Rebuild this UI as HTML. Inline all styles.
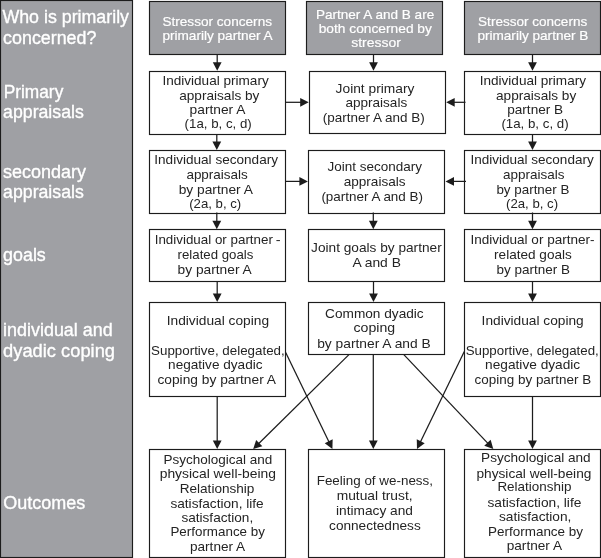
<!DOCTYPE html>
<html><head><meta charset="utf-8"><style>html,body{margin:0;padding:0;width:601px;height:558px;overflow:hidden;background:#fff}svg{display:block;will-change:transform;opacity:0.999}text{font-family:"Liberation Sans",sans-serif}</style></head><body>
<svg width="601" height="558" viewBox="0 0 601 558">
<rect x="0" y="0" width="601" height="558" fill="#fff"/>
<rect x="0.5" y="0.5" width="132" height="557" fill="#9fa0a4" stroke="#1c1c1c" stroke-width="1.15"/>
<rect x="149.5" y="1.5" width="136" height="53" fill="#9fa0a4" stroke="#1c1c1c" stroke-width="1.15"/>
<rect x="306.5" y="1.5" width="136" height="53" fill="#9fa0a4" stroke="#1c1c1c" stroke-width="1.15"/>
<rect x="464.5" y="1.5" width="136" height="53" fill="#9fa0a4" stroke="#1c1c1c" stroke-width="1.15"/>
<rect x="149.5" y="71.5" width="136" height="63" fill="#ffffff" stroke="#1c1c1c" stroke-width="1.15"/>
<rect x="309.5" y="71.5" width="136" height="62" fill="#ffffff" stroke="#1c1c1c" stroke-width="1.15"/>
<rect x="464.5" y="71.5" width="136" height="63" fill="#ffffff" stroke="#1c1c1c" stroke-width="1.15"/>
<rect x="149.5" y="150.5" width="136" height="63" fill="#ffffff" stroke="#1c1c1c" stroke-width="1.15"/>
<rect x="308.5" y="150.5" width="136" height="63" fill="#ffffff" stroke="#1c1c1c" stroke-width="1.15"/>
<rect x="464.5" y="150.5" width="136" height="63" fill="#ffffff" stroke="#1c1c1c" stroke-width="1.15"/>
<rect x="149.5" y="229.5" width="136" height="52" fill="#ffffff" stroke="#1c1c1c" stroke-width="1.15"/>
<rect x="308.5" y="229.5" width="136" height="52" fill="#ffffff" stroke="#1c1c1c" stroke-width="1.15"/>
<rect x="464.5" y="229.5" width="136" height="52" fill="#ffffff" stroke="#1c1c1c" stroke-width="1.15"/>
<rect x="149.5" y="302.5" width="136" height="94" fill="#ffffff" stroke="#1c1c1c" stroke-width="1.15"/>
<rect x="308.5" y="302.5" width="136" height="52" fill="#ffffff" stroke="#1c1c1c" stroke-width="1.15"/>
<rect x="464.5" y="302.5" width="136" height="94" fill="#ffffff" stroke="#1c1c1c" stroke-width="1.15"/>
<rect x="149.5" y="449.5" width="136" height="108" fill="#ffffff" stroke="#1c1c1c" stroke-width="1.15"/>
<rect x="308.5" y="449.5" width="136" height="108" fill="#ffffff" stroke="#1c1c1c" stroke-width="1.15"/>
<rect x="464.5" y="449.5" width="136" height="108" fill="#ffffff" stroke="#1c1c1c" stroke-width="1.15"/>
<g stroke="#1c1c1c" stroke-width="1.25" fill="none">
<line x1="217.20" y1="54.50" x2="217.20" y2="63.30"/><path d="M217.20,70.80 L212.80,62.30 L221.60,62.30 Z" stroke="none" fill="#1c1c1c"/>
<line x1="216.80" y1="134.00" x2="216.80" y2="142.50"/><path d="M216.80,150.00 L212.40,141.50 L221.20,141.50 Z" stroke="none" fill="#1c1c1c"/>
<line x1="216.80" y1="212.50" x2="216.80" y2="221.70"/><path d="M216.80,229.20 L212.40,220.70 L221.20,220.70 Z" stroke="none" fill="#1c1c1c"/>
<line x1="217.20" y1="281.00" x2="217.20" y2="294.50"/><path d="M217.20,302.00 L212.80,293.50 L221.60,293.50 Z" stroke="none" fill="#1c1c1c"/>
<line x1="217.20" y1="396.00" x2="217.20" y2="441.50"/><path d="M217.20,449.00 L212.80,440.50 L221.60,440.50 Z" stroke="none" fill="#1c1c1c"/>
<line x1="373.50" y1="54.50" x2="373.50" y2="63.30"/><path d="M373.50,70.80 L369.10,62.30 L377.90,62.30 Z" stroke="none" fill="#1c1c1c"/>
<line x1="373.30" y1="212.50" x2="373.30" y2="221.70"/><path d="M373.30,229.20 L368.90,220.70 L377.70,220.70 Z" stroke="none" fill="#1c1c1c"/>
<line x1="373.50" y1="281.00" x2="373.50" y2="294.50"/><path d="M373.50,302.00 L369.10,293.50 L377.90,293.50 Z" stroke="none" fill="#1c1c1c"/>
<line x1="373.30" y1="354.00" x2="373.30" y2="441.50"/><path d="M373.30,449.00 L368.90,440.50 L377.70,440.50 Z" stroke="none" fill="#1c1c1c"/>
<line x1="532.50" y1="54.50" x2="532.50" y2="63.30"/><path d="M532.50,70.80 L528.10,62.30 L536.90,62.30 Z" stroke="none" fill="#1c1c1c"/>
<line x1="532.50" y1="134.00" x2="532.50" y2="142.50"/><path d="M532.50,150.00 L528.10,141.50 L536.90,141.50 Z" stroke="none" fill="#1c1c1c"/>
<line x1="532.50" y1="212.50" x2="532.50" y2="221.70"/><path d="M532.50,229.20 L528.10,220.70 L536.90,220.70 Z" stroke="none" fill="#1c1c1c"/>
<line x1="532.50" y1="281.00" x2="532.50" y2="294.50"/><path d="M532.50,302.00 L528.10,293.50 L536.90,293.50 Z" stroke="none" fill="#1c1c1c"/>
<line x1="532.50" y1="396.00" x2="532.50" y2="441.50"/><path d="M532.50,449.00 L528.10,440.50 L536.90,440.50 Z" stroke="none" fill="#1c1c1c"/>
<line x1="285.50" y1="102.30" x2="301.20" y2="102.30"/><path d="M308.70,102.30 L300.20,106.70 L300.20,97.90 Z" stroke="none" fill="#1c1c1c"/>
<line x1="465.50" y1="102.30" x2="453.70" y2="102.30"/><path d="M446.20,102.30 L454.70,97.90 L454.70,106.70 Z" stroke="none" fill="#1c1c1c"/>
<line x1="285.50" y1="181.40" x2="300.40" y2="181.40"/><path d="M307.90,181.40 L299.40,185.80 L299.40,177.00 Z" stroke="none" fill="#1c1c1c"/>
<line x1="466.00" y1="181.40" x2="453.00" y2="181.40"/><path d="M445.50,181.40 L454.00,177.00 L454.00,185.80 Z" stroke="none" fill="#1c1c1c"/>
<line x1="285.70" y1="352.50" x2="329.13" y2="442.15"/><path d="M332.40,448.90 L324.73,443.17 L332.65,439.33 Z" stroke="none" fill="#1c1c1c"/>
<line x1="349.20" y1="354.40" x2="258.54" y2="443.74"/><path d="M253.20,449.00 L256.17,439.90 L262.34,446.17 Z" stroke="none" fill="#1c1c1c"/>
<line x1="403.60" y1="354.40" x2="488.14" y2="443.56"/><path d="M493.30,449.00 L484.26,445.86 L490.64,439.80 Z" stroke="none" fill="#1c1c1c"/>
<line x1="464.30" y1="351.50" x2="420.28" y2="442.15"/><path d="M417.00,448.90 L416.76,439.33 L424.67,443.18 Z" stroke="none" fill="#1c1c1c"/>
</g>
<text x="2.40" y="22.60" font-size="17.6" fill="#ffffff" stroke="#ffffff" stroke-width="0.35" textLength="126.60" lengthAdjust="spacingAndGlyphs">Who is primarily</text>
<text x="3.10" y="43.60" font-size="17.6" fill="#ffffff" stroke="#ffffff" stroke-width="0.35" textLength="93.30" lengthAdjust="spacingAndGlyphs">concerned?</text>
<text x="3.70" y="97.70" font-size="17.6" fill="#ffffff" stroke="#ffffff" stroke-width="0.35" textLength="59.61" lengthAdjust="spacingAndGlyphs">Primary</text>
<text x="3.10" y="118.40" font-size="17.6" fill="#ffffff" stroke="#ffffff" stroke-width="0.35" textLength="80.70" lengthAdjust="spacingAndGlyphs">appraisals</text>
<text x="3.10" y="178.00" font-size="17.6" fill="#ffffff" stroke="#ffffff" stroke-width="0.35" textLength="83.00" lengthAdjust="spacingAndGlyphs">secondary</text>
<text x="3.10" y="198.30" font-size="17.6" fill="#ffffff" stroke="#ffffff" stroke-width="0.35" textLength="80.70" lengthAdjust="spacingAndGlyphs">appraisals</text>
<text x="3.10" y="260.60" font-size="17.6" fill="#ffffff" stroke="#ffffff" stroke-width="0.35" textLength="42.69" lengthAdjust="spacingAndGlyphs">goals</text>
<text x="3.10" y="336.40" font-size="17.6" fill="#ffffff" stroke="#ffffff" stroke-width="0.35" textLength="109.60" lengthAdjust="spacingAndGlyphs">individual and</text>
<text x="3.10" y="356.90" font-size="17.6" fill="#ffffff" stroke="#ffffff" stroke-width="0.35" textLength="111.90" lengthAdjust="spacingAndGlyphs">dyadic coping</text>
<text x="3.30" y="508.60" font-size="17.6" fill="#ffffff" stroke="#ffffff" stroke-width="0.35" textLength="82.00" lengthAdjust="spacingAndGlyphs">Outcomes</text>
<text x="162.40" y="25.80" font-size="13.6" fill="#ffffff" stroke="#ffffff" stroke-width="0.2" textLength="109.60" lengthAdjust="spacingAndGlyphs">Stressor concerns</text>
<text x="162.40" y="39.50" font-size="13.6" fill="#ffffff" stroke="#ffffff" stroke-width="0.2" textLength="110.30" lengthAdjust="spacingAndGlyphs">primarily partner A</text>
<text x="315.90" y="18.80" font-size="13.6" fill="#ffffff" stroke="#ffffff" stroke-width="0.2" textLength="118.30" lengthAdjust="spacingAndGlyphs">Partner A and B are</text>
<text x="318.70" y="32.80" font-size="13.6" fill="#ffffff" stroke="#ffffff" stroke-width="0.2" textLength="113.20" lengthAdjust="spacingAndGlyphs">both concerned by</text>
<text x="351.20" y="46.80" font-size="13.6" fill="#ffffff" stroke="#ffffff" stroke-width="0.2" textLength="49.70" lengthAdjust="spacingAndGlyphs">stressor</text>
<text x="478.10" y="26.00" font-size="13.6" fill="#ffffff" stroke="#ffffff" stroke-width="0.2" textLength="109.10" lengthAdjust="spacingAndGlyphs">Stressor concerns</text>
<text x="477.40" y="39.70" font-size="13.6" fill="#ffffff" stroke="#ffffff" stroke-width="0.2" textLength="111.00" lengthAdjust="spacingAndGlyphs">primarily partner B</text>
<text x="162.40" y="85.10" font-size="13.6" fill="#242424" stroke="#242424" stroke-width="0" textLength="106.31" lengthAdjust="spacingAndGlyphs">Individual primary</text>
<text x="179.20" y="100.10" font-size="13.6" fill="#242424" stroke="#242424" stroke-width="0" textLength="80.20" lengthAdjust="spacingAndGlyphs">appraisals by</text>
<text x="189.60" y="114.10" font-size="13.6" fill="#242424" stroke="#242424" stroke-width="0" textLength="55.80" lengthAdjust="spacingAndGlyphs">partner A</text>
<text x="184.60" y="128.10" font-size="13.6" fill="#242424" stroke="#242424" stroke-width="0" textLength="67.10" lengthAdjust="spacingAndGlyphs">(1a, b, c, d)</text>
<text x="335.60" y="92.90" font-size="13.6" fill="#242424" stroke="#242424" stroke-width="0" textLength="78.80" lengthAdjust="spacingAndGlyphs">Joint primary</text>
<text x="345.40" y="107.20" font-size="13.6" fill="#242424" stroke="#242424" stroke-width="0" textLength="61.80" lengthAdjust="spacingAndGlyphs">appraisals</text>
<text x="322.80" y="121.70" font-size="13.6" fill="#242424" stroke="#242424" stroke-width="0" textLength="101.90" lengthAdjust="spacingAndGlyphs">(partner A and B)</text>
<text x="479.70" y="84.60" font-size="13.6" fill="#242424" stroke="#242424" stroke-width="0" textLength="106.31" lengthAdjust="spacingAndGlyphs">Individual primary</text>
<text x="496.00" y="99.60" font-size="13.6" fill="#242424" stroke="#242424" stroke-width="0" textLength="80.20" lengthAdjust="spacingAndGlyphs">appraisals by</text>
<text x="507.20" y="113.60" font-size="13.6" fill="#242424" stroke="#242424" stroke-width="0" textLength="56.00" lengthAdjust="spacingAndGlyphs">partner B</text>
<text x="501.40" y="127.60" font-size="13.6" fill="#242424" stroke="#242424" stroke-width="0" textLength="67.20" lengthAdjust="spacingAndGlyphs">(1a, b, c, d)</text>
<text x="154.30" y="164.30" font-size="13.6" fill="#242424" stroke="#242424" stroke-width="0" textLength="123.70" lengthAdjust="spacingAndGlyphs">Individual secondary</text>
<text x="186.40" y="178.80" font-size="13.6" fill="#242424" stroke="#242424" stroke-width="0" textLength="61.40" lengthAdjust="spacingAndGlyphs">appraisals</text>
<text x="178.70" y="194.10" font-size="13.6" fill="#242424" stroke="#242424" stroke-width="0" textLength="74.20" lengthAdjust="spacingAndGlyphs">by partner A</text>
<text x="189.20" y="207.80" font-size="13.6" fill="#242424" stroke="#242424" stroke-width="0" textLength="52.00" lengthAdjust="spacingAndGlyphs">(2a, b, c)</text>
<text x="327.40" y="170.80" font-size="13.6" fill="#242424" stroke="#242424" stroke-width="0" textLength="94.50" lengthAdjust="spacingAndGlyphs">Joint secondary</text>
<text x="343.70" y="185.70" font-size="13.6" fill="#242424" stroke="#242424" stroke-width="0" textLength="61.90" lengthAdjust="spacingAndGlyphs">appraisals</text>
<text x="321.40" y="200.70" font-size="13.6" fill="#242424" stroke="#242424" stroke-width="0" textLength="101.60" lengthAdjust="spacingAndGlyphs">(partner A and B)</text>
<text x="470.40" y="164.30" font-size="13.6" fill="#242424" stroke="#242424" stroke-width="0" textLength="123.30" lengthAdjust="spacingAndGlyphs">Individual secondary</text>
<text x="503.00" y="178.80" font-size="13.6" fill="#242424" stroke="#242424" stroke-width="0" textLength="61.40" lengthAdjust="spacingAndGlyphs">appraisals</text>
<text x="496.40" y="194.10" font-size="13.6" fill="#242424" stroke="#242424" stroke-width="0" textLength="73.00" lengthAdjust="spacingAndGlyphs">by partner B</text>
<text x="506.00" y="207.80" font-size="13.6" fill="#242424" stroke="#242424" stroke-width="0" textLength="52.10" lengthAdjust="spacingAndGlyphs">(2a, b, c)</text>
<text x="154.70" y="243.70" font-size="13.6" fill="#242424" stroke="#242424" stroke-width="0" textLength="118.21" lengthAdjust="spacingAndGlyphs">Individual or partner</text>
<text x="275.83" y="243.70" font-size="13.6" fill="#242424" stroke="#242424" stroke-width="0" textLength="4.85" lengthAdjust="spacingAndGlyphs">-</text>
<text x="177.60" y="258.60" font-size="13.6" fill="#242424" stroke="#242424" stroke-width="0" textLength="75.80" lengthAdjust="spacingAndGlyphs">related goals</text>
<text x="177.60" y="273.90" font-size="13.6" fill="#242424" stroke="#242424" stroke-width="0" textLength="74.10" lengthAdjust="spacingAndGlyphs">by partner A</text>
<text x="311.10" y="252.10" font-size="13.6" fill="#242424" stroke="#242424" stroke-width="0" textLength="130.60" lengthAdjust="spacingAndGlyphs">Joint goals by partner</text>
<text x="352.40" y="266.80" font-size="13.6" fill="#242424" stroke="#242424" stroke-width="0" textLength="48.50" lengthAdjust="spacingAndGlyphs">A and B</text>
<text x="470.40" y="243.70" font-size="13.6" fill="#242424" stroke="#242424" stroke-width="0" textLength="124.21" lengthAdjust="spacingAndGlyphs">Individual or partner-</text>
<text x="494.10" y="258.60" font-size="13.6" fill="#242424" stroke="#242424" stroke-width="0" textLength="77.70" lengthAdjust="spacingAndGlyphs">related goals</text>
<text x="496.50" y="273.90" font-size="13.6" fill="#242424" stroke="#242424" stroke-width="0" textLength="73.40" lengthAdjust="spacingAndGlyphs">by partner B</text>
<text x="166.70" y="324.90" font-size="13.6" fill="#242424" stroke="#242424" stroke-width="0" textLength="102.40" lengthAdjust="spacingAndGlyphs">Individual coping</text>
<text x="151.10" y="355.20" font-size="13.6" fill="#242424" stroke="#242424" stroke-width="0" textLength="133.61" lengthAdjust="spacingAndGlyphs">Supportive, delegated,</text>
<text x="168.10" y="369.20" font-size="13.6" fill="#242424" stroke="#242424" stroke-width="0" textLength="94.40" lengthAdjust="spacingAndGlyphs">negative dyadic</text>
<text x="157.40" y="383.60" font-size="13.6" fill="#242424" stroke="#242424" stroke-width="0" textLength="118.60" lengthAdjust="spacingAndGlyphs">coping by partner A</text>
<text x="325.10" y="318.00" font-size="13.6" fill="#242424" stroke="#242424" stroke-width="0" textLength="98.60" lengthAdjust="spacingAndGlyphs">Common dyadic</text>
<text x="353.50" y="331.60" font-size="13.6" fill="#242424" stroke="#242424" stroke-width="0" textLength="41.60" lengthAdjust="spacingAndGlyphs">coping</text>
<text x="317.20" y="348.30" font-size="13.6" fill="#242424" stroke="#242424" stroke-width="0" textLength="113.50" lengthAdjust="spacingAndGlyphs">by partner A and B</text>
<text x="481.60" y="324.90" font-size="13.6" fill="#242424" stroke="#242424" stroke-width="0" textLength="102.10" lengthAdjust="spacingAndGlyphs">Individual coping</text>
<text x="465.70" y="355.20" font-size="13.6" fill="#242424" stroke="#242424" stroke-width="0" textLength="133.10" lengthAdjust="spacingAndGlyphs">Supportive, delegated,</text>
<text x="485.10" y="369.20" font-size="13.6" fill="#242424" stroke="#242424" stroke-width="0" textLength="95.10" lengthAdjust="spacingAndGlyphs">negative dyadic</text>
<text x="474.60" y="383.80" font-size="13.6" fill="#242424" stroke="#242424" stroke-width="0" textLength="116.60" lengthAdjust="spacingAndGlyphs">coping by partner B</text>
<text x="163.40" y="463.60" font-size="13.6" fill="#242424" stroke="#242424" stroke-width="0" textLength="108.89" lengthAdjust="spacingAndGlyphs">Psychological and</text>
<text x="159.70" y="477.60" font-size="13.6" fill="#242424" stroke="#242424" stroke-width="0" textLength="116.30" lengthAdjust="spacingAndGlyphs">physical well-being</text>
<text x="179.70" y="492.60" font-size="13.6" fill="#242424" stroke="#242424" stroke-width="0" textLength="74.71" lengthAdjust="spacingAndGlyphs">Relationship</text>
<text x="170.40" y="507.50" font-size="13.6" fill="#242424" stroke="#242424" stroke-width="0" textLength="93.31" lengthAdjust="spacingAndGlyphs">satisfaction, life</text>
<text x="181.40" y="522.00" font-size="13.6" fill="#242424" stroke="#242424" stroke-width="0" textLength="71.80" lengthAdjust="spacingAndGlyphs">satisfaction,</text>
<text x="170.40" y="536.20" font-size="13.6" fill="#242424" stroke="#242424" stroke-width="0" textLength="94.50" lengthAdjust="spacingAndGlyphs">Performance by</text>
<text x="190.00" y="550.70" font-size="13.6" fill="#242424" stroke="#242424" stroke-width="0" textLength="55.10" lengthAdjust="spacingAndGlyphs">partner A</text>
<text x="316.70" y="484.90" font-size="13.6" fill="#242424" stroke="#242424" stroke-width="0" textLength="116.30" lengthAdjust="spacingAndGlyphs">Feeling of we-ness,</text>
<text x="336.70" y="500.20" font-size="13.6" fill="#242424" stroke="#242424" stroke-width="0" textLength="75.90" lengthAdjust="spacingAndGlyphs">mutual trust,</text>
<text x="336.00" y="515.30" font-size="13.6" fill="#242424" stroke="#242424" stroke-width="0" textLength="77.00" lengthAdjust="spacingAndGlyphs">intimacy and</text>
<text x="329.10" y="530.00" font-size="13.6" fill="#242424" stroke="#242424" stroke-width="0" textLength="91.60" lengthAdjust="spacingAndGlyphs">connectedness</text>
<text x="481.10" y="462.30" font-size="13.6" fill="#242424" stroke="#242424" stroke-width="0" textLength="109.59" lengthAdjust="spacingAndGlyphs">Psychological and</text>
<text x="476.40" y="477.80" font-size="13.6" fill="#242424" stroke="#242424" stroke-width="0" textLength="115.00" lengthAdjust="spacingAndGlyphs">physical well-being</text>
<text x="497.40" y="491.30" font-size="13.6" fill="#242424" stroke="#242424" stroke-width="0" textLength="74.01" lengthAdjust="spacingAndGlyphs">Relationship</text>
<text x="487.40" y="506.50" font-size="13.6" fill="#242424" stroke="#242424" stroke-width="0" textLength="94.01" lengthAdjust="spacingAndGlyphs">satisfaction, life</text>
<text x="499.00" y="521.00" font-size="13.6" fill="#242424" stroke="#242424" stroke-width="0" textLength="72.40" lengthAdjust="spacingAndGlyphs">satisfaction,</text>
<text x="488.10" y="536.10" font-size="13.6" fill="#242424" stroke="#242424" stroke-width="0" textLength="94.90" lengthAdjust="spacingAndGlyphs">Performance by</text>
<text x="506.70" y="550.10" font-size="13.6" fill="#242424" stroke="#242424" stroke-width="0" textLength="55.30" lengthAdjust="spacingAndGlyphs">partner A</text>
</svg></body></html>
